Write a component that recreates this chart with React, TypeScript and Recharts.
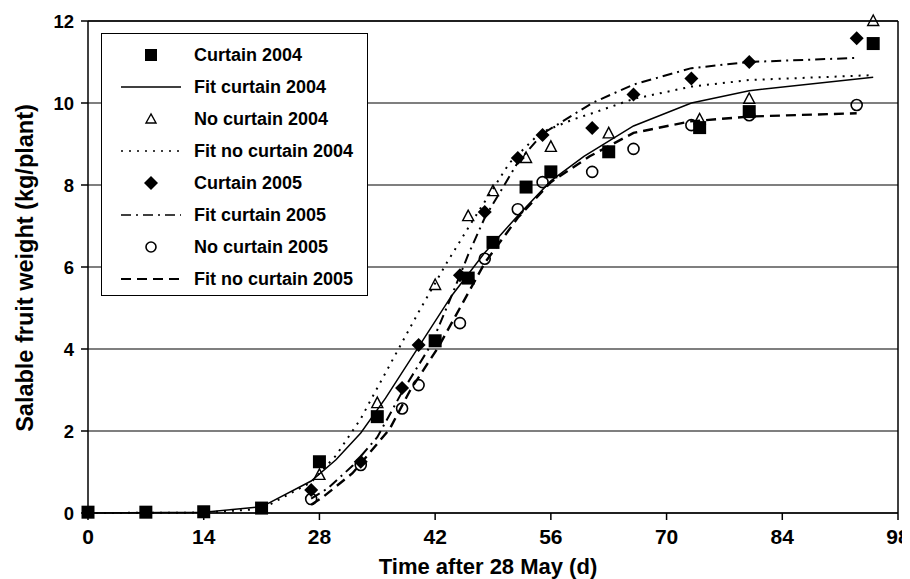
import React from 'react';
import { ComposedChart, Line, Scatter, XAxis, YAxis, CartesianGrid, Legend, ReferenceLine } from 'recharts';

const xTicks = [0, 14, 28, 42, 56, 70, 84, 98];
const yTicks = [0, 2, 4, 6, 8, 10, 12];

const curtain2004Days = [0, 7, 14, 21, 28, 35, 42, 46, 49, 53, 56, 63, 74, 80, 95];
const curtain2004Values = [0.02, 0.02, 0.03, 0.12, 1.25, 2.35, 4.2, 5.73, 6.6, 7.95, 8.32, 8.81, 9.4, 9.79, 11.45];
const noCurtain2004Days = [28, 35, 42, 46, 49, 53, 56, 63, 74, 80, 95];
const noCurtain2004Values = [0.93, 2.68, 5.56, 7.24, 7.85, 8.66, 8.93, 9.26, 9.6, 10.1, 12.0];
const curtain2005Days = [27, 33, 38, 40, 45, 48, 52, 55, 61, 66, 73, 80, 93];
const curtain2005Values = [0.56, 1.25, 3.05, 4.1, 5.8, 7.34, 8.66, 9.22, 9.39, 10.21, 10.6, 11.0, 11.58];
const noCurtain2005Days = [27, 33, 38, 40, 45, 48, 52, 55, 61, 66, 73, 80, 93];
const noCurtain2005Values = [0.34, 1.17, 2.55, 3.12, 4.63, 6.2, 7.41, 8.07, 8.32, 8.88, 9.46, 9.7, 9.95];

const fitCurtain2004Days = [0, 14, 21, 27, 30, 33, 36, 40, 44, 48, 52, 56, 60, 66, 73, 80, 95];
const fitCurtain2004Values = [0, 0.02, 0.15, 0.78, 1.3, 1.95, 2.8, 4.05, 5.3, 6.35, 7.25, 8.1, 8.7, 9.44, 10.0, 10.3, 10.63];
const fitNoCurtain2004Days = [0, 14, 21, 27, 30, 33, 35, 37.7, 40, 43.4, 46.6, 51, 54.7, 58.7, 61, 66, 73, 80, 95];
const fitNoCurtain2004Values = [0, 0.01, 0.1, 0.75, 1.4, 2.3, 3.05, 4.05, 4.9, 6.1, 7.15, 8.54, 9.27, 9.6, 9.75, 10.1, 10.4, 10.56, 10.68];
const fitCurtain2005Days = [27, 29, 32, 35, 38, 41.5, 44, 46, 48, 52, 55, 61, 66, 73, 80, 93];
const fitCurtain2005Values = [0.35, 0.6, 1.15, 1.85, 2.95, 4.1, 5.3, 6.3, 7.2, 8.55, 9.25, 10.0, 10.45, 10.85, 11.0, 11.1];
const fitNoCurtain2005Days = [27, 28.3, 32, 36.5, 39, 42.4, 45, 48, 52, 56, 60.7, 66, 72.8, 80, 93];
const fitNoCurtain2005Values = [0.2, 0.37, 0.97, 2.05, 3.0, 4.05, 5.0, 6.1, 7.2, 8.07, 8.7, 9.27, 9.55, 9.67, 9.75];

const legendLabels = [
  'Curtain 2004',
  'Fit curtain 2004',
  'No curtain 2004',
  'Fit no curtain 2004',
  'Curtain 2005',
  'Fit curtain 2005',
  'No curtain 2005',
  'Fit no curtain 2005',
];

const pair = (xs: number[], ys: number[]) => xs.map((x, i) => ({ x, y: ys[i] }));

const FONT = '"Liberation Sans", Arial, Helvetica, sans-serif';

const SquareShape = (p: any) => <rect x={p.cx - 6.5} y={p.cy - 6.5} width={13} height={13} fill="#000" />;
const TriangleShape = (p: any) => (
  <polygon points={`${p.cx},${p.cy - 6} ${p.cx - 5.5},${p.cy + 4.5} ${p.cx + 5.5},${p.cy + 4.5}`} fill="none" stroke="#000" strokeWidth={1.4} />
);
const DiamondShape = (p: any) => (
  <polygon points={`${p.cx},${p.cy - 7} ${p.cx + 7},${p.cy} ${p.cx},${p.cy + 7} ${p.cx - 7},${p.cy}`} fill="#000" />
);
const CircleShape = (p: any) => <circle cx={p.cx} cy={p.cy} r={5.5} fill="none" stroke="#000" strokeWidth={1.6} />;

const dashes = ['', '0', '', '2 6', '', '10 5 2 5', '', '10 6'];

const LegendBox = () => (
  <div
    style={{
      width: 265,
      height: 256,
      border: '1.5px solid #000',
      background: '#fff',
      paddingTop: 5,
      boxSizing: 'content-box',
      fontFamily: FONT,
      fontWeight: 'bold',
      fontSize: 18,
      color: '#000',
      textAlign: 'left',
    }}
  >
    {legendLabels.map((label, i) => (
      <div key={label} style={{ height: 32, display: 'flex', alignItems: 'center' }}>
        <svg width={92} height={32} style={{ display: 'block', flex: 'none' }}>
          {i === 0 && <rect x={43} y={10} width={12} height={12} fill="#000" />}
          {i === 2 && <polygon points="49,11 44,20 54,20" fill="none" stroke="#000" strokeWidth={1.4} />}
          {i === 4 && <polygon points="49,9 56,16 49,23 42,16" fill="#000" />}
          {i === 6 && <circle cx={49} cy={16} r={5} fill="none" stroke="#000" strokeWidth={1.6} />}
          {i % 2 === 1 && (
            <line
              x1={19}
              x2={79}
              y1={16}
              y2={16}
              stroke="#000"
              strokeWidth={i === 7 ? 2 : 1.5}
              strokeDasharray={i === 1 ? undefined : dashes[i]}
            />
          )}
        </svg>
        <span style={{ whiteSpace: 'nowrap' }}>{label}</span>
      </div>
    ))}
  </div>
);

const YTitle = () => (
  <text
    x={17}
    y={260}
    transform="rotate(-90, 17, 260)"
    textAnchor="middle"
    dominantBaseline="central"
    fontFamily={FONT}
    fontWeight="bold"
    fontSize={23.5}
    fill="#000"
  >
    Salable fruit weight (kg/plant)
  </text>
);

const XTitle = () => (
  <text x={480} y={566} textAnchor="middle" fontFamily={FONT} fontWeight="bold" fontSize={22} fill="#000">
    Time after 28 May (d)
  </text>
);

export default function App() {
  const xTickStyle = { fill: '#000', fontFamily: FONT, fontWeight: 'bold' as const, fontSize: 21 };
  const yTickStyle = { fill: '#000', fontFamily: FONT, fontWeight: 'bold' as const, fontSize: 18.5 };
  return (
    <div style={{ width: 902, height: 571 }}>
      <ComposedChart width={902} height={571} margin={{ top: 13, right: 12, bottom: 6, left: 20 }}>
        <CartesianGrid horizontal vertical={false} stroke="#000" strokeWidth={1.2} />
        <XAxis
          type="number"
          dataKey="x"
          domain={[0, 98]}
          ticks={xTicks}
          interval={0}
          allowDuplicatedCategory={false}
          height={60}
          tickSize={7}
          tickMargin={9}
          stroke="#000"
          strokeWidth={1.5}
          tick={xTickStyle}
          label={{ content: () => <XTitle /> }}
        />
        <YAxis
          type="number"
          dataKey="y"
          domain={[0, 12]}
          ticks={yTicks}
          interval={0}
          width={60}
          tickSize={7}
          tickMargin={7}
          stroke="#000"
          strokeWidth={1.5}
          tick={yTickStyle}
          label={{ content: () => <YTitle /> }}
        />
        <ReferenceLine x={98} stroke="#000" strokeWidth={1.5} />
        <ReferenceLine y={12} stroke="#000" strokeWidth={1.5} />

        <Line data={pair(fitCurtain2004Days, fitCurtain2004Values)} dataKey="y" type="linear" stroke="#000" strokeWidth={1.5} dot={false} activeDot={false} isAnimationActive={false} legendType="none" />
        <Line data={pair(fitNoCurtain2004Days, fitNoCurtain2004Values)} dataKey="y" type="linear" stroke="#000" strokeWidth={2} strokeDasharray="2 6" dot={false} activeDot={false} isAnimationActive={false} legendType="none" />
        <Line data={pair(fitCurtain2005Days, fitCurtain2005Values)} dataKey="y" type="linear" stroke="#000" strokeWidth={2} strokeDasharray="10 5 2 5" dot={false} activeDot={false} isAnimationActive={false} legendType="none" />
        <Line data={pair(fitNoCurtain2005Days, fitNoCurtain2005Values)} dataKey="y" type="linear" stroke="#000" strokeWidth={2.4} strokeDasharray="10 6" dot={false} activeDot={false} isAnimationActive={false} legendType="none" />

        <Scatter data={pair(noCurtain2004Days, noCurtain2004Values)} dataKey="y" shape={TriangleShape} isAnimationActive={false} legendType="none" />
        <Scatter data={pair(noCurtain2005Days, noCurtain2005Values)} dataKey="y" shape={CircleShape} isAnimationActive={false} legendType="none" />
        <Scatter data={pair(curtain2004Days, curtain2004Values)} dataKey="y" shape={SquareShape} isAnimationActive={false} legendType="none" />
        <Scatter data={pair(curtain2005Days, curtain2005Values)} dataKey="y" shape={DiamondShape} isAnimationActive={false} legendType="none" />

        <Legend
          layout="vertical"
          align="center"
          verticalAlign="middle"
          content={() => <LegendBox />}
          wrapperStyle={{ position: 'absolute', left: 93, top: 25, width: 268, height: 263, margin: 0 }}
        />
      </ComposedChart>
    </div>
  );
}
